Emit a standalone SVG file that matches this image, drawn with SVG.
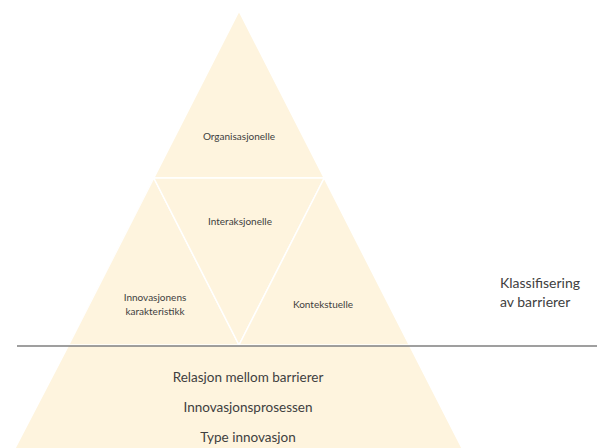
<svg xmlns="http://www.w3.org/2000/svg" width="597" height="448" viewBox="0 0 597 448">
<style>
.seg{fill:#FEF4DE;stroke:#FFFFFF;stroke-width:1.5;stroke-linejoin:round}
text{font-family:Lato,"Liberation Sans",Arial,sans-serif;fill:#404040;text-anchor:middle}
.s{font-size:10px}
.m{font-size:13.5px}
.r{font-size:14px;text-anchor:start}
</style>
<rect width="597" height="448" fill="#FFFFFF"/>
<g id="bunn">
<polygon class="seg" points="68.7,345 409.3,345 464,452 13,452"/>
<text class="m" x="248" y="382">Relasjon mellom barrierer</text>
<text class="m" x="248" y="412">Innovasjonsprosessen</text>
<text class="m" x="248" y="442">Type innovasjon</text>
</g>
<g id="organisasjonelle">
<polygon class="seg" points="239,11 324.2,178 153.8,178"/>
<text class="s" x="239" y="140">Organisasjonelle</text>
</g>
<g id="innovasjonens-karakteristikk">
<polygon class="seg" points="153.8,178 239,345 68.7,345"/>
<text class="s" x="155" y="301">Innovasjonens</text>
<text class="s" x="155" y="315">karakteristikk</text>
</g>
<g id="interaksjonelle">
<polygon class="seg" points="153.8,178 324.2,178 239,345"/>
<text class="s" x="240" y="225">Interaksjonelle</text>
</g>
<g id="kontekstuelle">
<polygon class="seg" points="324.2,178 409.3,345 239,345"/>
<text class="s" x="323" y="308">Kontekstuelle</text>
</g>
<g id="connectors">
<line x1="17" y1="346" x2="597" y2="346" stroke="#7F7F7F" stroke-width="1.5"/>
</g>
<g id="klassifisering">
<text class="r" x="500" y="288">Klassifisering</text>
<text class="r" x="500" y="307">av barrierer</text>
</g>
</svg>
